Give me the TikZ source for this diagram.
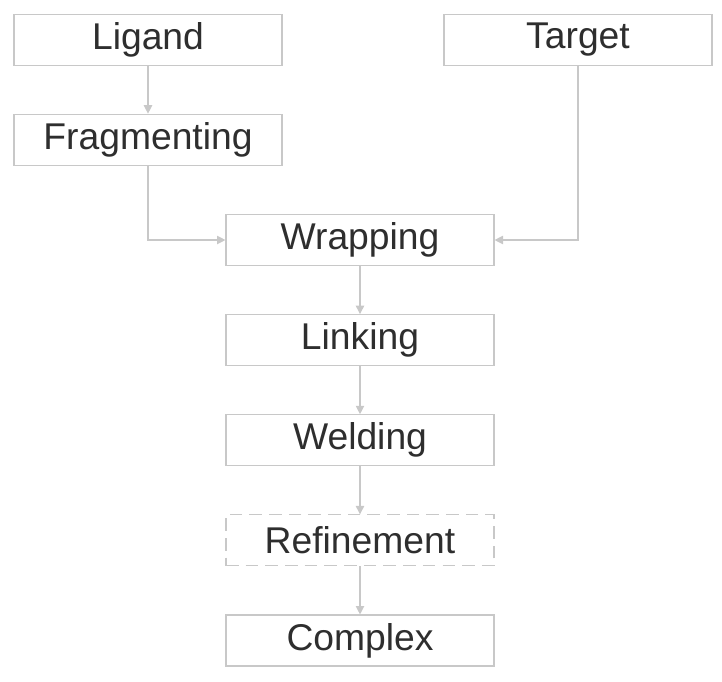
\documentclass[tikz,border=0pt]{standalone}
\usepackage{fontspec}
\setmainfont{Liberation Sans}
\usepackage{tikz}
\usetikzlibrary{arrows.meta, positioning}
\definecolor{boxgray}{HTML}{C8C8C8}
\definecolor{textgray}{HTML}{2E2E2E}
\tikzset{
  step_box/.style={rectangle, draw=boxgray, line width=0.8pt, fill=white, minimum width=6.7cm, minimum height=1.275cm, inner sep=0pt, text=textgray, font=\fontsize{26.5}{30}\selectfont},
  optional_box/.style={step_box, dashed, dash pattern=on 9pt off 5pt},
  flow_arrow/.style={-{Triangle[length=6pt, width=6pt]}, boxgray, line width=0.8pt}
}
\begin{document}
\begin{tikzpicture}[node distance=1.2cm]

  \useasboundingbox (0,0) rectangle (18.05,-17.025);

  % Inputs
  \node[step_box] (ligand) at (3.7, -0.99) {Ligand};
  \node[step_box] (target) at (14.45, -0.99) {Target};
  \node[step_box, below=of ligand] (fragmenting) {Fragmenting};

  % Main pipeline
  \node[step_box] (wrapping) at (9.0, -6.0) {Wrapping};
  \node[step_box, below=of wrapping] (linking) {Linking};
  \node[step_box, below=of linking] (welding) {Welding};
  \node[optional_box, below=of welding] (refinement) {Refinement};
  \node[step_box, below=of refinement] (complex) {Complex};

  % Connectors
  \draw[flow_arrow] (ligand) -- (fragmenting);
  \draw[flow_arrow] (fragmenting.south) |- (wrapping.west);
  \draw[flow_arrow] (target.south) |- (wrapping.east);
  \foreach \from/\to in {wrapping/linking, linking/welding, welding/refinement, refinement/complex} {
    \draw[flow_arrow] (\from) -- (\to);
  }

\end{tikzpicture}
\end{document}
